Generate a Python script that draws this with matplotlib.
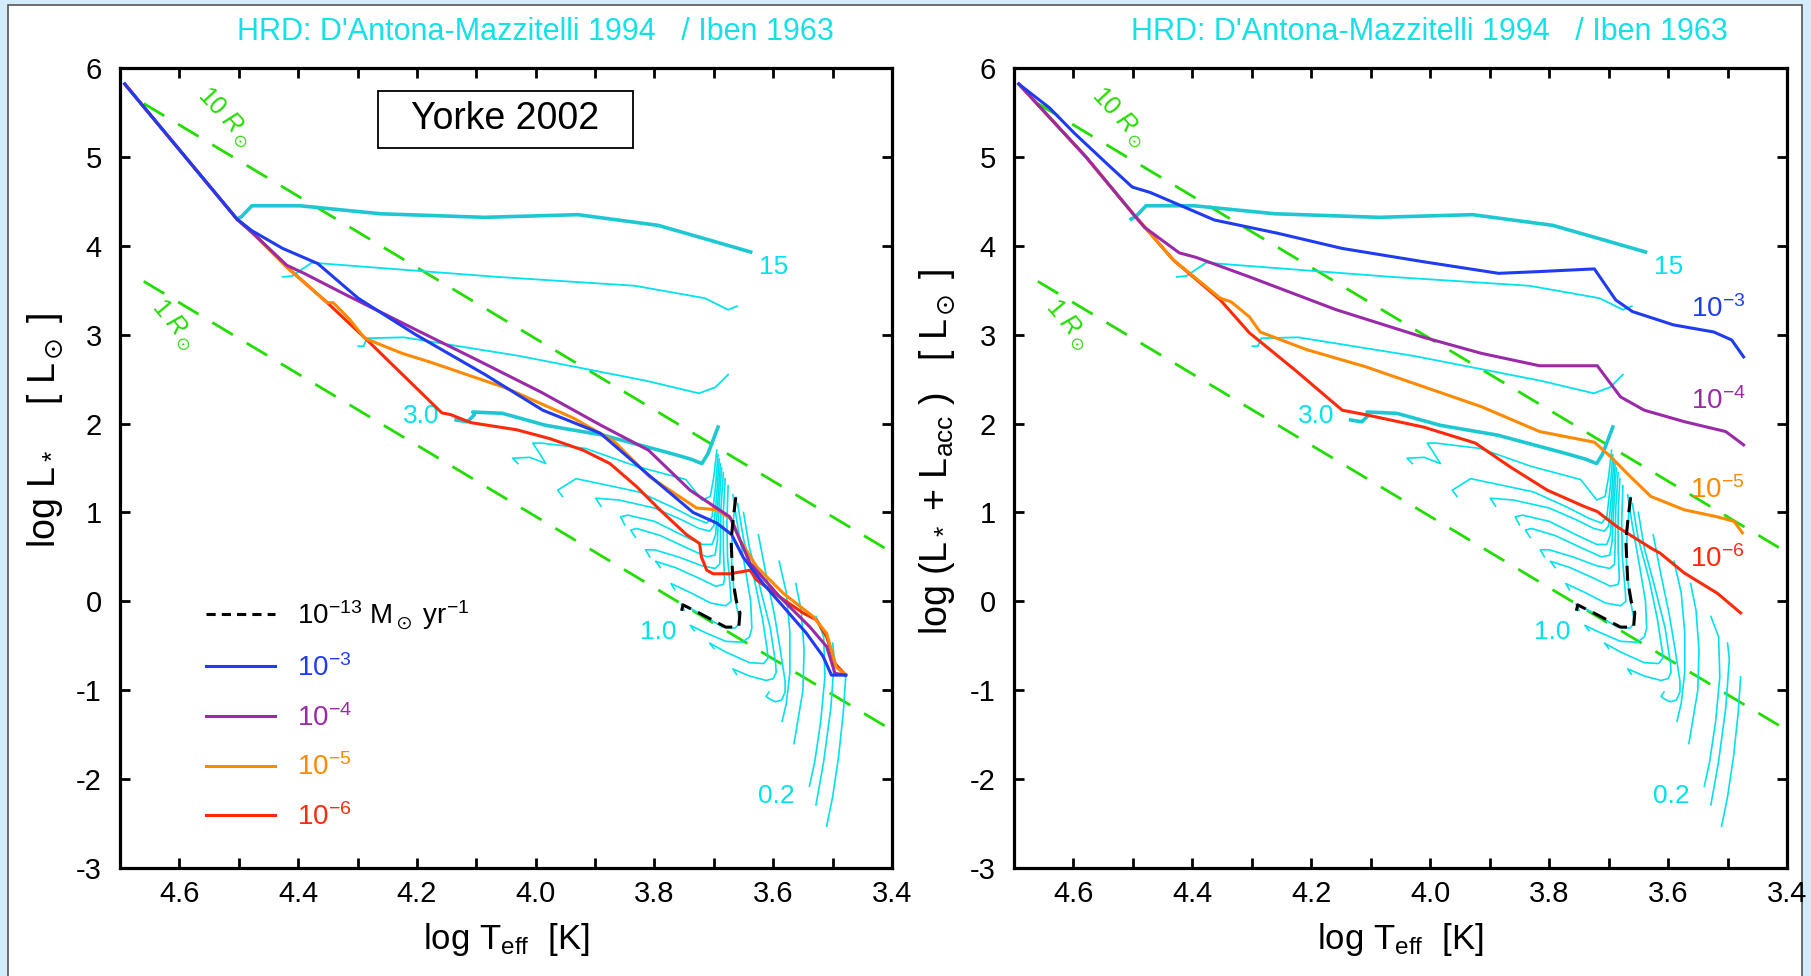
import matplotlib
matplotlib.use("Agg")
import matplotlib.pyplot as plt
from matplotlib.patches import Rectangle

plt.rcParams['font.family'] = ['Liberation Sans', 'DejaVu Sans']
plt.rcParams['mathtext.fontset'] = 'custom'
plt.rcParams['mathtext.rm'] = 'Liberation Sans'
plt.rcParams['mathtext.it'] = 'Liberation Sans:italic'
plt.rcParams['mathtext.default'] = 'regular'
plt.rcParams['axes.unicode_minus'] = False

# ---- data (log Teff, log L) ----
x_major = [4.6, 4.4, 4.2, 4.0, 3.8, 3.6, 3.4]
x_minor = [4.7, 4.5, 4.3, 4.1, 3.9, 3.7, 3.5]
y_ticks = [-3, -2, -1, 0, 1, 2, 3, 4, 5, 6]

# constant radius lines (10 Rsun, 1 Rsun)
r10_T = [4.66, 3.40]
r10_L = [5.60, 0.55]
r1_T = [4.66, 3.40]
r1_L = [3.60, -1.45]

# Iben 1963 tracks
iben15_T = [4.503, 4.495, 4.478, 4.397, 4.261, 4.086, 3.929, 3.794, 3.700, 3.638]
iben15_L = [4.30, 4.33, 4.45, 4.45, 4.36, 4.32, 4.35, 4.23, 4.05, 3.93]
iben9_T = [4.426, 4.410, 4.377, 4.261, 4.065, 3.833, 3.715, 3.676, 3.661]
iben9_L = [3.65, 3.66, 3.81, 3.75, 3.65, 3.55, 3.41, 3.28, 3.32]
iben5_T = [4.299, 4.290, 4.284, 4.222, 4.027, 3.813, 3.725, 3.697, 3.676]
iben5_L = [2.87, 2.87, 2.96, 2.97, 2.76, 2.48, 2.34, 2.41, 2.55]
iben3_T = [4.134, 4.115, 4.103, 4.106, 4.056, 3.983, 3.887, 3.770, 3.739, 3.720, 3.710, 3.693]
iben3_L = [2.04, 2.02, 2.10, 2.13, 2.115, 1.98, 1.87, 1.66, 1.60, 1.55, 1.66, 1.96]

# D'Antona & Mazzitelli 1994 pre-main-sequence tracks
dm_T = [
    [3.478, 3.482, 3.490, 3.500, 3.510],
    [3.500, 3.497, 3.503, 3.515, 3.528],
    [3.528, 3.515, 3.513, 3.520, 3.530, 3.539],
    [3.562, 3.553, 3.548, 3.550, 3.560, 3.565],
    [3.590, 3.578, 3.572, 3.572, 3.578, 3.585],
    [3.625, 3.612, 3.598, 3.588, 3.580, 3.580, 3.586, 3.596, 3.606, 3.612, 3.607],
    [3.650, 3.640, 3.622, 3.605, 3.596, 3.595, 3.600, 3.612, 3.640, 3.668, 3.662],
    [3.660, 3.650, 3.632, 3.618, 3.610, 3.609, 3.616, 3.640, 3.680, 3.707, 3.700],
    [3.668, 3.660, 3.648, 3.638, 3.636, 3.640, 3.652, 3.680, 3.715, 3.740, 3.733],
    [3.663, 3.669, 3.670, 3.666, 3.658, 3.657, 3.664, 3.685, 3.725, 3.755, 3.750],
    [3.676, 3.678, 3.677, 3.672, 3.671, 3.680, 3.705, 3.740, 3.772, 3.766],
    [3.681, 3.684, 3.684, 3.682, 3.684, 3.697, 3.725, 3.765, 3.798, 3.790],
    [3.684, 3.688, 3.689, 3.690, 3.698, 3.720, 3.760, 3.800, 3.815, 3.808],
    [3.687, 3.691, 3.694, 3.698, 3.712, 3.745, 3.790, 3.830, 3.840, 3.832],
    [3.689, 3.693, 3.697, 3.703, 3.720, 3.755, 3.800, 3.845, 3.857, 3.850],
    [3.691, 3.695, 3.700, 3.707, 3.725, 3.755, 3.800, 3.860, 3.899, 3.890],
    [3.693, 3.697, 3.703, 3.712, 3.735, 3.770, 3.826, 3.882, 3.932, 3.963, 3.955],
    [3.695, 3.700, 3.706, 3.720, 3.747, 3.831, 3.916, 3.990, 4.005, 3.995, 3.983, 4.010, 4.039, 4.030],
]
dm_L = [
    [-0.85, -1.25, -1.75, -2.20, -2.53],
    [-0.47, -0.65, -1.20, -1.80, -2.29],
    [-0.17, -0.40, -0.85, -1.35, -1.80, -2.08],
    [0.20, -0.10, -0.55, -1.00, -1.40, -1.60],
    [0.45, 0.10, -0.35, -0.80, -1.15, -1.35],
    [0.75, 0.30, -0.15, -0.55, -0.90, -1.02, -1.11, -1.13, -1.10, -1.07, -1.02],
    [1.00, 0.60, 0.15, -0.30, -0.70, -0.80, -0.87, -0.89, -0.84, -0.76, -0.82],
    [1.10, 0.70, 0.25, -0.20, -0.55, -0.64, -0.70, -0.69, -0.57, -0.47, -0.53],
    [1.20, 0.85, 0.40, 0.00, -0.30, -0.40, -0.46, -0.45, -0.35, -0.27, -0.33],
    [1.17, 0.80, 0.45, 0.10, -0.18, -0.25, -0.30, -0.29, -0.13, -0.03, -0.10],
    [1.30, 0.90, 0.50, 0.12, 0.00, -0.05, -0.02, 0.10, 0.20, 0.13],
    [1.38, 1.00, 0.60, 0.25, 0.19, 0.17, 0.26, 0.38, 0.45, 0.38],
    [1.45, 1.05, 0.65, 0.42, 0.37, 0.40, 0.50, 0.58, 0.58, 0.50],
    [1.50, 1.10, 0.68, 0.52, 0.50, 0.60, 0.74, 0.82, 0.80, 0.72],
    [1.55, 1.15, 0.75, 0.64, 0.64, 0.75, 0.90, 0.97, 0.95, 0.86],
    [1.60, 1.20, 0.85, 0.79, 0.82, 0.92, 1.05, 1.14, 1.16, 1.07],
    [1.65, 1.30, 0.95, 0.88, 0.94, 1.06, 1.23, 1.31, 1.38, 1.25, 1.18],
    [1.70, 1.40, 1.18, 1.14, 1.37, 1.52, 1.72, 1.78, 1.78, 1.68, 1.55, 1.62, 1.61, 1.55],
]

# 10^-13 Msun/yr (no accretion) track
slow_T = [3.663, 3.667, 3.671, 3.668, 3.662, 3.656, 3.658, 3.680, 3.725, 3.752, 3.755]
slow_L = [1.17, 0.95, 0.69, 0.24, 0.00, -0.13, -0.29, -0.29, -0.13, -0.04, -0.13]

# Yorke 2002 accretion tracks, left panel: log L*
blueL_T = [4.692, 4.503, 4.478, 4.426, 4.367, 4.299, 4.202, 4.085, 3.988, 3.891, 3.813, 3.735,
           3.695, 3.670, 3.651, 3.617, 3.583, 3.544, 3.516, 3.502, 3.478]
blueL_L = [5.82, 4.30, 4.17, 3.97, 3.80, 3.41, 3.00, 2.55, 2.15, 1.89, 1.44, 1.00,
           0.88, 0.75, 0.50, 0.20, -0.06, -0.36, -0.62, -0.83, -0.83]
purpL_T = [4.692, 4.503, 4.476, 4.419, 4.390, 4.320, 4.200, 4.100, 3.990, 3.890, 3.810, 3.740,
           3.700, 3.673, 3.639, 3.589, 3.538, 3.510, 3.496, 3.478]
purpL_L = [5.82, 4.30, 4.14, 3.78, 3.69, 3.45, 3.05, 2.72, 2.35, 1.98, 1.70, 1.25,
           1.07, 0.95, 0.43, 0.05, -0.29, -0.51, -0.81, -0.83]
orngL_T = [4.692, 4.503, 4.476, 4.419, 4.351, 4.341, 4.313, 4.288, 4.225, 4.177, 4.050, 3.936,
           3.868, 3.808, 3.729, 3.695, 3.670, 3.656, 3.628, 3.583, 3.533, 3.510, 3.494, 3.478]
orngL_L = [5.82, 4.30, 4.14, 3.76, 3.36, 3.36, 3.17, 2.96, 2.79, 2.69, 2.40, 2.06,
           1.80, 1.40, 1.05, 1.03, 0.92, 0.69, 0.39, 0.09, -0.17, -0.36, -0.74, -0.83]
redL_T = [4.692, 4.503, 4.476, 4.419, 4.351, 4.284, 4.158, 4.143, 4.109, 4.032, 3.976, 3.920,
          3.875, 3.830, 3.791, 3.746, 3.724, 3.721, 3.712, 3.701, 3.673, 3.639, 3.628, 3.589,
          3.550, 3.527, 3.510, 3.496, 3.478]
redL_L = [5.82, 4.30, 4.14, 3.76, 3.36, 2.94, 2.12, 2.10, 2.01, 1.93, 1.83, 1.70,
          1.55, 1.29, 1.03, 0.75, 0.65, 0.50, 0.35, 0.31, 0.31, 0.35, 0.24, 0.05,
          -0.13, -0.21, -0.40, -0.70, -0.83]

# right panel: log (L* + Lacc)
blueR_T = [4.692, 4.640, 4.599, 4.540, 4.501, 4.471, 4.363, 4.256, 4.148, 4.011, 3.885, 3.816,
           3.724, 3.688, 3.660, 3.591, 3.523, 3.493, 3.473]
blueR_L = [5.82, 5.55, 5.27, 4.90, 4.66, 4.60, 4.29, 4.14, 3.97, 3.82, 3.69, 3.71,
           3.74, 3.39, 3.26, 3.11, 3.03, 2.94, 2.75]
purpR_T = [4.692, 4.579, 4.501, 4.481, 4.422, 4.394, 4.304, 4.158, 4.011, 3.914, 3.816, 3.719,
           3.680, 3.640, 3.572, 3.503, 3.473]
purpR_L = [5.82, 5.00, 4.37, 4.21, 3.92, 3.87, 3.65, 3.28, 2.97, 2.79, 2.65, 2.65,
           2.30, 2.15, 2.02, 1.91, 1.76]
orngR_T = [4.692, 4.579, 4.501, 4.432, 4.353, 4.335, 4.304, 4.286, 4.207, 4.109, 3.914, 3.816,
           3.724, 3.697, 3.663, 3.629, 3.573, 3.517, 3.489, 3.475]
orngR_L = [5.82, 5.00, 4.37, 3.84, 3.41, 3.37, 3.20, 3.03, 2.83, 2.64, 2.19, 1.91,
           1.79, 1.63, 1.40, 1.18, 1.03, 0.95, 0.90, 0.77]
redR_T = [4.692, 4.579, 4.501, 4.432, 4.353, 4.304, 4.227, 4.148, 4.109, 4.011, 3.924, 3.865,
          3.803, 3.742, 3.719, 3.686, 3.629, 3.613, 3.573, 3.517, 3.478]
redR_L = [5.82, 5.00, 4.37, 3.84, 3.39, 3.02, 2.60, 2.15, 2.10, 1.96, 1.78, 1.51,
          1.25, 1.07, 1.01, 0.84, 0.60, 0.54, 0.32, 0.09, -0.13]

rate_labels = [r'$10^{-13}$ M$_\odot$ yr$^{-1}$', r'$10^{-3}$', r'$10^{-4}$', r'$10^{-5}$', r'$10^{-6}$']
mass_labels = ['15', '3.0', '1.0', '0.2']
mass_label_T = [3.599, 4.192, 3.794, 3.594]
mass_label_L = [3.76, 2.09, -0.34, -2.19]
rateR_T = [3.515, 3.515, 3.518, 3.518]
rateR_L = [3.29, 2.25, 1.25, 0.48]

CYAN = '#00e2ec'
CYAN_THICK = '#1ec8d2'
BLUE = '#1f3cf2'
PURPLE = '#9a2aa8'
ORANGE = '#ff8a00'
RED = '#ff2a0a'
GREEN = '#22dd00'

fig = plt.figure(figsize=(18.11, 9.76), dpi=100)
fig.patch.set_facecolor('#d3ecfb')
fig.add_artist(Rectangle((8 / 1811, -0.05), 1794 / 1811, 1.05 - 5 / 976, transform=fig.transFigure,
                         facecolor='white', edgecolor='#555555', lw=1.2, zorder=-10))

axL = fig.add_axes([120 / 1811, 108 / 976, 772 / 1811, 800 / 976])
axR = fig.add_axes([1014 / 1811, 108 / 976, 773 / 1811, 800 / 976])


def base_panel(ax):
    ax.plot(r10_T, r10_L, color=GREEN, lw=2, dashes=(8.6, 5.8), zorder=1)
    ax.plot(r1_T, r1_L, color=GREEN, lw=2, dashes=(8.6, 5.8), zorder=1)
    for T, L in zip(dm_T, dm_L):
        ax.plot(T, L, color=CYAN, lw=1.2, zorder=2)
    ax.plot(iben15_T, iben15_L, color=CYAN_THICK, lw=2.6, zorder=2)
    ax.plot(iben9_T, iben9_L, color=CYAN, lw=1.3, zorder=2)
    ax.plot(iben5_T, iben5_L, color=CYAN, lw=1.3, zorder=2)
    ax.plot(iben3_T, iben3_L, color=CYAN_THICK, lw=2.6, zorder=2)
    for s, t, l in zip(mass_labels, mass_label_T, mass_label_L):
        ax.text(t, l, s, color=CYAN, fontsize=19, ha='center', va='center')
    ax.text(4.523, 5.44, r'10 $\mathit{R}_\odot$', color=GREEN, fontsize=18,
            rotation=-47, ha='center', va='center')
    ax.text(4.610, 3.11, r'1 $\mathit{R}_\odot$', color=GREEN, fontsize=18,
            rotation=-50, ha='center', va='center')
    ax.text(0.538, 1.045, "HRD: D'Antona-Mazzitelli 1994   / Iben 1963", transform=ax.transAxes,
            ha='center', va='center', color='#14e0e8', fontsize=22)

    ax.set_xlim(4.7, 3.4)
    ax.set_ylim(-3, 6)
    ax.set_xticks(x_major)
    ax.set_xticklabels(['%.1f' % v for v in x_major])
    ax.set_xticks(x_minor, minor=True)
    ax.set_yticks(y_ticks)
    ax.set_yticklabels([str(v) for v in y_ticks])
    ax.tick_params(which='both', direction='in', top=True, right=True, length=7, width=2)
    ax.tick_params(axis='x', labelsize=21, pad=9)
    ax.tick_params(axis='y', labelsize=21, pad=13)
    for sp in ax.spines.values():
        sp.set_linewidth(2.3)
    ax.set_xlabel(r'log T$_{eff}$  [K]', fontsize=25)
    ax.xaxis.set_label_coords(0.5, -0.066)


base_panel(axL)
base_panel(axR)

# left panel: stellar luminosity
axL.plot(redL_T, redL_L, color=RED, lw=2.2, zorder=3)
axL.plot(orngL_T, orngL_L, color=ORANGE, lw=2.2, zorder=3)
axL.plot(purpL_T, purpL_L, color=PURPLE, lw=2.2, zorder=3)
axL.plot(blueL_T, blueL_L, color=BLUE, lw=2.2, zorder=3)
axL.plot(slow_T, slow_L, color='black', lw=2.2, dashes=(4.9, 2.6), zorder=4)

h0, = axL.plot([], [], color='black', lw=2.2, dashes=(3, 2))
h1, = axL.plot([], [], color=BLUE, lw=2.2)
h2, = axL.plot([], [], color=PURPLE, lw=2.2)
h3, = axL.plot([], [], color=ORANGE, lw=2.2)
h4, = axL.plot([], [], color=RED, lw=2.2)
axL.legend([h0, h1, h2, h3, h4], rate_labels, loc='upper left', bbox_to_anchor=(0.111, 0.337),
           frameon=False, fontsize=20, handlelength=2.5, handletextpad=0.8, labelspacing=0.79,
           borderpad=0, borderaxespad=0,
           labelcolor=['black', BLUE, PURPLE, ORANGE, RED])

axL.add_patch(Rectangle((0.334, 0.900), 0.330, 0.071, transform=axL.transAxes,
                        facecolor='white', edgecolor='black', lw=1.3, zorder=5))
axL.text(0.499, 0.936, 'Yorke 2002', transform=axL.transAxes, ha='center', va='center',
         fontsize=27, zorder=6)
axL.set_ylabel(r'log L$_*$    [ L$_\odot$ ]', fontsize=27)
axL.yaxis.set_label_coords(-0.07, 0.5475)

# right panel: stellar + accretion luminosity
axR.plot(redR_T, redR_L, color=RED, lw=2.2, zorder=3)
axR.plot(orngR_T, orngR_L, color=ORANGE, lw=2.2, zorder=3)
axR.plot(purpR_T, purpR_L, color=PURPLE, lw=2.2, zorder=3)
axR.plot(blueR_T, blueR_L, color=BLUE, lw=2.2, zorder=3)
axR.plot(slow_T, slow_L, color='black', lw=2.2, dashes=(4.9, 2.6), zorder=4)
for s, t, l, c in zip(rate_labels[1:], rateR_T, rateR_L, [BLUE, PURPLE, ORANGE, RED]):
    axR.text(t, l, s, color=c, fontsize=20, ha='center', va='center')
axR.set_ylabel(r'log (L$_*$ + L$_{acc}$ )   [ L$_\odot$ ]', fontsize=27)
axR.yaxis.set_label_coords(-0.073, 0.52)

fig.savefig('out.png', dpi=100, facecolor=fig.get_facecolor())
